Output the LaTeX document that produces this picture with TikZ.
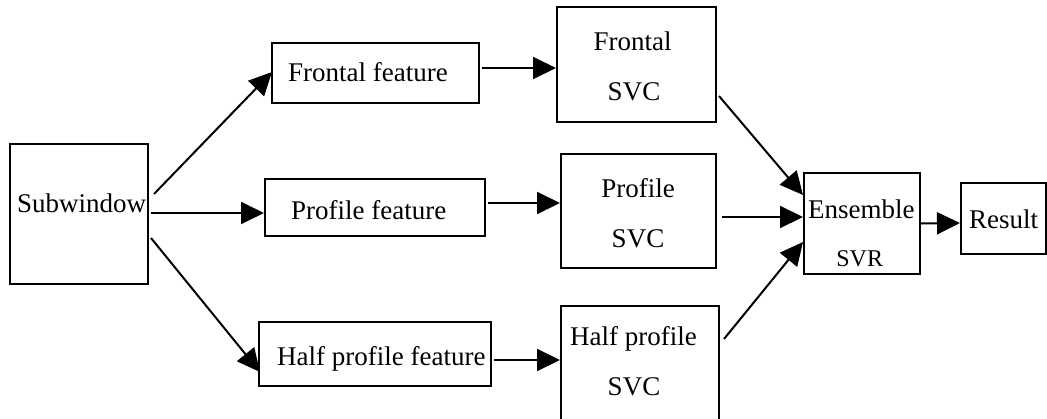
\documentclass[tikz,border=0pt]{standalone}
\usepackage{fontspec}
\setmainfont{Liberation Serif}
\usetikzlibrary{arrows.meta}
\begin{document}
\begin{tikzpicture}[x=1pt,y=-1pt,
  box/.style={draw=black,line width=2pt,inner sep=0pt,rectangle},
  lbl/.style={inner sep=0pt,font=\fontsize{27}{32}\selectfont},
  small/.style={inner sep=0pt,font=\fontsize{24}{28}\selectfont},
  arr/.style={line width=2pt,-{Triangle[length=23pt,width=22pt]}}]
\useasboundingbox (0,0) rectangle (1047,418);
% boxes
\node[box,minimum width=138pt,minimum height=140pt] (sub) at (79,214) {};
\node[box,minimum width=207pt,minimum height=60pt] (ff) at (375.5,73) {};
\node[box,minimum width=220pt,minimum height=57pt] (pf) at (375,207.5) {};
\node[box,minimum width=232pt,minimum height=64pt] (hf) at (375,354) {};
\node[box,minimum width=159pt,minimum height=115pt] (fs) at (636.5,64.5) {};
\node[box,minimum width=155pt,minimum height=114pt] (ps) at (638.5,211) {};
\node[box,minimum width=158pt,minimum height=120pt] (hs) at (640,366) {};
\node[box,minimum width=116pt,minimum height=101pt] (ens) at (862,223.5) {};
\node[box,minimum width=85pt,minimum height=71pt] (res) at (1003.5,218.5) {};
% texts
\node[lbl,anchor=base west] (tsub) at (17,212.7) {Subwindow};
\node[lbl,anchor=base west] (tff) at (288,81.7) {Frontal feature};
\node[lbl,anchor=base west] (tpf) at (291,219.3) {Profile feature};
\node[lbl,anchor=base west] (thf) at (277,365) {Half profile feature};
\node[lbl,anchor=base] (tfs1) at (632.5,50.7) {Frontal};
\node[lbl,anchor=base] (tfs2) at (634,100.7) {SVC};
\node[lbl,anchor=base] (tps1) at (638,197.7) {Profile};
\node[lbl,anchor=base] (tps2) at (638,247.7) {SVC};
\node[lbl,anchor=base west] (ths1) at (570,345.7) {Half profile};
\node[lbl,anchor=base] (ths2) at (634,395) {SVC};
\node[lbl,anchor=base west] (tens1) at (808,218.3) {Ensemble};
\node[small,anchor=base] (tens2) at (859.7,266) {SVR};
\node[lbl,anchor=base west] (tres) at (969,228.3) {Result};
% connectors
\draw[arr] ([shift={(5,-20)}]sub.east) -- ([shift={(1,-1)}]ff.west);
\draw[arr] ([shift={(2,-1)}]sub.east) -- ([shift={(0,5.5)}]pf.west);
\draw[arr] ([shift={(2,24)}]sub.east) -- ([shift={(2,18)}]hf.west);
\draw[arr] ([shift={(2,-5)}]ff.east) -- ([shift={(0,3.5)}]fs.west);
\draw[arr] ([shift={(2,-4.5)}]pf.east) -- ([shift={(0,-8)}]ps.west);
\draw[arr] ([shift={(2,6)}]hf.east) -- ([shift={(0,-6)}]hs.west);
\draw[arr] ([shift={(2,31.5)}]fs.east) -- ([shift={(0,-28.5)}]ens.west);
\draw[arr] ([shift={(5,6)}]ps.east) -- ([shift={(0,-6.5)}]ens.west);
\draw[arr] ([shift={(4,-27)}]hs.east) -- ([shift={(0,18.5)}]ens.west);
\draw[arr] (ens.east) -- ([shift={(0,4.5)}]res.west);
\end{tikzpicture}
\end{document}
